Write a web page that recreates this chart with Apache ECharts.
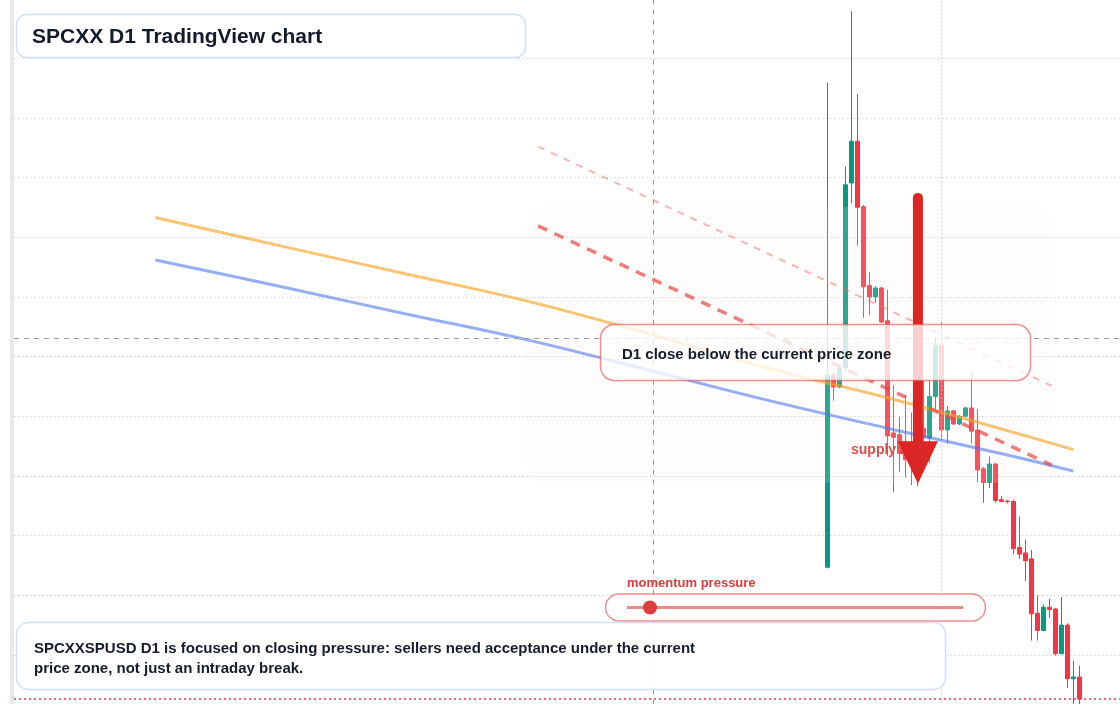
<!DOCTYPE html>
<html>
<head>
<meta charset="utf-8">
<title>SPCXX D1 TradingView chart</title>
<script src="https://cdn.jsdelivr.net/npm/echarts@6/dist/echarts.min.js"></script>
<style>
  html, body { margin: 0; padding: 0; background: #ffffff; }
  #chart { width: 1120px; height: 704px; }
</style>
</head>
<body>
<div id="chart"></div>
<script>
var FONT = "'Liberation Sans', Arial, sans-serif";

// D1 candles, bar index 0 = first visible candle
var barIndex = [0, 1, 2, 3, 4, 5, 6, 7, 8, 9, 10, 11, 12, 13, 14, 15, 16, 17, 18, 19, 20,
  21, 22, 23, 24, 25, 26, 27, 28, 29, 30, 31, 32, 33, 34, 35, 36, 37, 38, 39, 40, 41, 42];
var open = [20.47, 23.69, 23.49, 23.81, 26.91, 27.61, 26.51, 25.19, 25.00, 25.15, 24.60,
  22.72, 22.69, 22.57, 22.49, 22.52, 22.80, 22.63, 23.33, 24.19, 22.77,
  23.09, 22.87, 23.00, 23.14, 22.77, 22.12, 21.89, 22.20, 21.60, 21.58,
  21.57, 20.80, 20.71, 20.61, 19.70, 19.41, 19.80, 19.77, 19.02, 19.50, 18.60, 18.63];
var close = [23.69, 23.49, 23.80, 26.88, 27.61, 26.50, 25.17, 25.00, 25.15, 24.58, 22.67,
  22.65, 22.38, 22.27, 22.23, 22.23, 22.64, 23.33, 24.19, 22.77, 23.09,
  22.87, 23.00, 23.14, 22.75, 22.10, 21.89, 22.20, 21.59, 21.57, 21.57,
  20.78, 20.69, 20.58, 19.69, 19.41, 19.80, 19.76, 19.02, 19.50, 18.60, 18.63, 18.26];
var low = [20.45, 23.26, 23.47, 23.74, 26.57, 25.86, 24.65, 24.70, 24.90, 24.56, 22.33,
  21.73, 22.07, 21.97, 21.85, 21.83, 22.10, 22.22, 23.11, 22.60, 22.54,
  22.85, 22.85, 22.99, 22.54, 21.90, 21.55, 21.80, 21.55, 21.56, 21.54,
  20.69, 20.61, 20.24, 19.24, 19.24, 19.40, 19.62, 18.99, 19.01, 18.45, 18.04, 18.04];
var high = [28.59, 23.74, 23.86, 27.19, 29.79, 28.40, 26.54, 25.42, 25.18, 25.17, 25.12,
  23.52, 22.99, 23.36, 23.06, 22.77, 23.61, 23.61, 24.31, 24.59, 23.17,
  23.11, 23.02, 23.16, 23.73, 23.12, 22.15, 22.33, 22.22, 21.66, 21.60,
  21.60, 21.32, 20.93, 20.76, 20.00, 19.85, 19.94, 19.79, 19.97, 19.53, 18.90, 18.82];

// moving averages (sampled along the bar index)
var maX = [-112, -90, -70, -50, -30, -10, 10, 30, 41];
var maSlow = [26.33, 25.83, 25.38, 24.93, 24.39, 23.81, 23.31, 22.76, 22.44];
var maFast = [25.62, 25.15, 24.71, 24.28, 23.78, 23.27, 22.80, 22.35, 22.08];

// descending trend lines
var trendX = [-48.2, 37.4];
var trendUpper = [27.52, 23.51];
var trendLower = [26.19, 22.18];

// supply zone box and the arrow
var zoneX = [-50, 37.5];
var zoneY = [26.51, 21.88];
var arrowX = 15.1;
var arrowY = [26.66, 22.58, 21.87]; // shaft top, head base, tip

var crossX = -29;
var crossY = 24.31;
var gridX = 19;
var lastClose = 18.26;

var candles = barIndex.map(function (b, i) {
  return [b, open[i], close[i], low[i], high[i]];
});
function pairs(xs, ys) {
  return xs.map(function (x, i) { return [x, ys[i]]; });
}

var chart = echarts.init(document.getElementById('chart'), null, { renderer: 'canvas' });

var option = {
  backgroundColor: '#ffffff',
  animation: false,
  grid: { left: 14, right: 0, top: -1.4, bottom: -10.6, outerBoundsMode: 'none' },
  xAxis: {
    type: 'value',
    min: -135.55,
    max: 48.78,
    axisLine: { show: false },
    axisTick: { show: false },
    axisLabel: { show: false },
    splitLine: { show: false }
  },
  yAxis: {
    type: 'value',
    min: 18,
    max: 30,
    interval: 1,
    axisLine: { show: false },
    axisTick: { show: false },
    axisLabel: { show: false },
    splitLine: { show: true, lineStyle: { color: '#d2d2d2', width: 1, type: [1.5, 2.5] } }
  },
  series: [
    {
      type: 'candlestick',
      z: 2,
      barWidth: 4,
      encode: { x: 0, y: [1, 2, 3, 4] },
      data: candles,
      itemStyle: {
        color: '#089981',
        color0: '#f23645',
        borderColor: '#089981',
        borderColor0: '#f23645',
        borderWidth: 1
      },
      markLine: {
        silent: true,
        symbol: 'none',
        label: { show: false },
        animation: false,
        data: [
          { xAxis: gridX, lineStyle: { color: '#d2d2d2', width: 1, type: [1.5, 2.5] } },
          { xAxis: crossX, lineStyle: { color: '#9a9a9a', width: 1, type: [5, 5] } },
          { yAxis: crossY, lineStyle: { color: '#9a9a9a', width: 1, type: [5, 5] } },
          { yAxis: lastClose, lineStyle: { color: '#f23645', width: 1.5, type: [2, 3] } }
        ]
      }
    },
    {
      type: 'custom',
      z: 3,
      silent: true,
      encode: { x: [0, 2], y: [1, 3] },
      data: [[zoneX[0], zoneY[0], zoneX[1], zoneY[1]]],
      renderItem: function (params, api) {
        var a = api.coord([api.value(0), api.value(1)]);
        var b = api.coord([api.value(2), api.value(3)]);
        return {
          type: 'rect',
          shape: { x: a[0], y: a[1], width: b[0] - a[0], height: b[1] - a[1], r: 18 },
          style: { fill: 'rgba(250,240,232,0.16)' }
        };
      }
    },
    {
      type: 'line',
      z: 4,
      data: pairs(maX, maSlow),
      symbol: 'none',
      smooth: 0.4,
      silent: true,
      lineStyle: { color: 'rgba(248,165,40,0.65)', width: 3 }
    },
    {
      type: 'line',
      z: 4,
      data: pairs(maX, maFast),
      symbol: 'none',
      smooth: 0.4,
      silent: true,
      lineStyle: { color: 'rgba(79,120,240,0.6)', width: 3 }
    },
    {
      type: 'line',
      z: 4,
      data: pairs(trendX, trendUpper),
      symbol: 'none',
      silent: true,
      lineStyle: { color: 'rgba(238,110,110,0.5)', width: 2, type: [7, 7] }
    },
    {
      type: 'line',
      z: 4,
      data: pairs(trendX, trendLower),
      symbol: 'none',
      silent: true,
      lineStyle: { color: 'rgba(228,70,70,0.7)', width: 3.5, type: [10, 8] }
    },
    {
      type: 'custom',
      z: 6,
      silent: true,
      encode: { x: 0, y: [1, 2, 3] },
      data: [[arrowX, arrowY[0], arrowY[1], arrowY[2]]],
      renderItem: function (params, api) {
        var top = api.coord([api.value(0), api.value(1)]);
        var base = api.coord([api.value(0), api.value(2)]);
        var tip = api.coord([api.value(0), api.value(3)]);
        return {
          type: 'group',
          children: [
            {
              type: 'line',
              shape: { x1: top[0], y1: top[1], x2: base[0], y2: base[1] + 2 },
              style: { stroke: '#dc2626', lineWidth: 10, lineCap: 'round' }
            },
            {
              type: 'polygon',
              shape: { points: [[base[0] - 20, base[1]], [base[0] + 20, base[1]], [tip[0], tip[1]]] },
              style: { fill: '#dc2626' }
            }
          ]
        };
      }
    }
  ],
  graphic: [
    { type: 'rect', z: 1, silent: true, shape: { x: 10, y: 0, width: 4, height: 704 }, style: { fill: '#e9e9e9' } },
    {
      type: 'text', z: 5, silent: true, x: 851, y: 450,
      style: { text: 'supply zone', font: 'bold 14px ' + FONT, fill: 'rgba(224,56,56,0.9)', verticalAlign: 'middle' }
    },
    {
      type: 'rect', z: 100, silent: true,
      shape: { x: 16.5, y: 14.5, width: 509, height: 43, r: 10 },
      style: { fill: 'rgba(255,255,255,0.94)', stroke: '#d3def3', lineWidth: 1.5 }
    },
    {
      type: 'text', z: 101, silent: true, x: 32, y: 37,
      style: { text: 'SPCXX D1 TradingView chart', font: 'bold 21px ' + FONT, fill: '#131a2b', verticalAlign: 'middle' }
    },
    {
      type: 'rect', z: 100, silent: true,
      shape: { x: 600.5, y: 324.5, width: 430, height: 56, r: 14 },
      style: { fill: 'rgba(255,255,255,0.78)', stroke: 'rgba(230,70,70,0.6)', lineWidth: 1.5 }
    },
    {
      type: 'text', z: 101, silent: true, x: 622, y: 355,
      style: { text: 'D1 close below the current price zone', font: 'bold 15px ' + FONT, fill: '#151c2c', verticalAlign: 'middle' }
    },
    {
      type: 'text', z: 101, silent: true, x: 627, y: 583,
      style: { text: 'momentum pressure', font: 'bold 13px ' + FONT, fill: '#e03c3c', verticalAlign: 'middle' }
    },
    {
      type: 'rect', z: 100, silent: true,
      shape: { x: 605.5, y: 594, width: 380, height: 27, r: 13.5 },
      style: { fill: 'rgba(255,255,255,0.85)', stroke: 'rgba(230,80,80,0.65)', lineWidth: 1.5 }
    },
    {
      type: 'line', z: 101, silent: true,
      shape: { x1: 627, y1: 607.5, x2: 963, y2: 607.5 },
      style: { stroke: '#ef8888', lineWidth: 3 }
    },
    {
      type: 'circle', z: 102, silent: true,
      shape: { cx: 650, cy: 607.5, r: 7 },
      style: { fill: '#e03c3c' }
    },
    {
      type: 'rect', z: 100, silent: true,
      shape: { x: 16.5, y: 622.5, width: 929, height: 67, r: 12 },
      style: { fill: 'rgba(255,255,255,0.88)', stroke: '#d3def3', lineWidth: 1.5 }
    },
    {
      type: 'text', z: 101, silent: true, x: 34, y: 649,
      style: { text: 'SPCXXSPUSD D1 is focused on closing pressure: sellers need acceptance under the current', font: 'bold 15px ' + FONT, fill: '#151c2c', verticalAlign: 'middle' }
    },
    {
      type: 'text', z: 101, silent: true, x: 34, y: 669,
      style: { text: 'price zone, not just an intraday break.', font: 'bold 15px ' + FONT, fill: '#151c2c', verticalAlign: 'middle' }
    }
  ]
};

chart.setOption(option);
</script>
</body>
</html>
